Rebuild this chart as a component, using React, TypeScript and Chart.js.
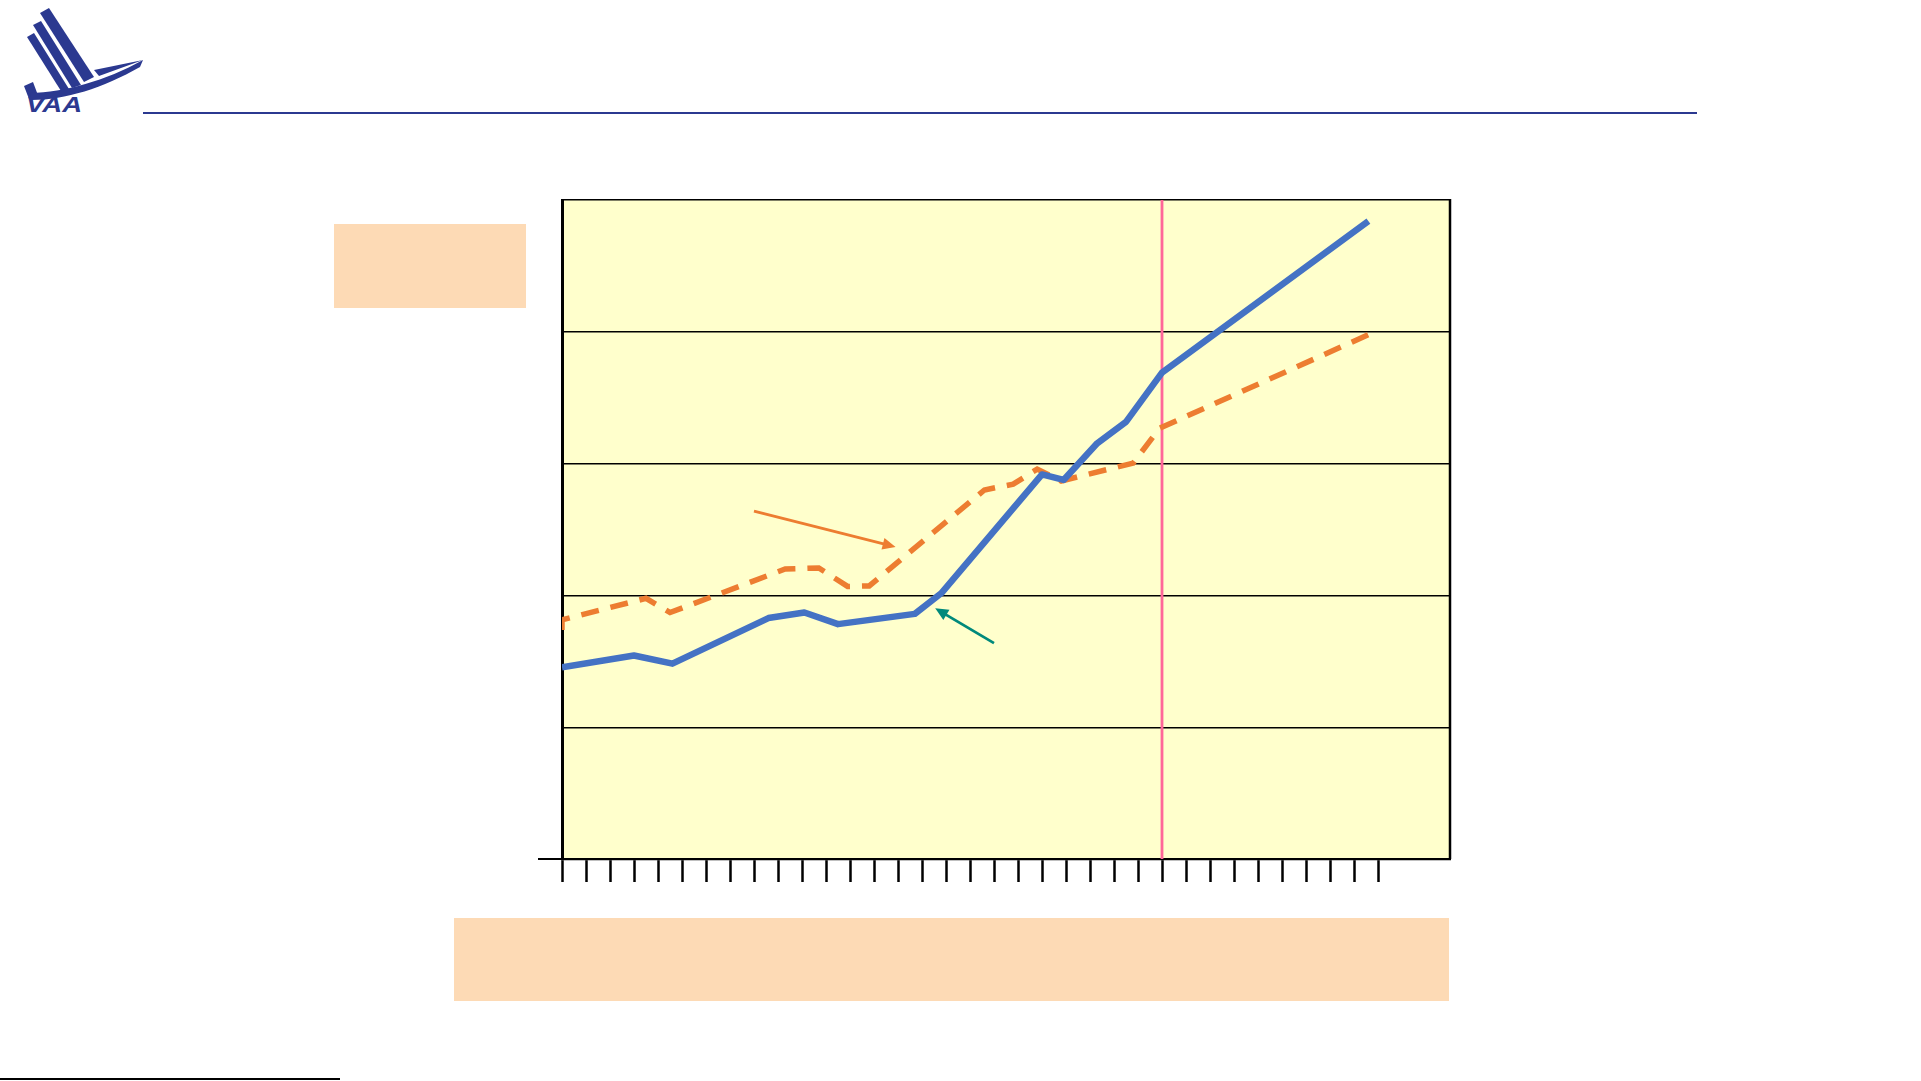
import React, { useEffect, useRef } from "react";
import { Chart, registerables } from "chart.js";

Chart.register(...registerables);

// ---- Data (x in period units, y in value units 0..250) ----
const blueX = [0, 3.0, 4.6, 8.6, 10.1, 11.5, 14.7, 15.8, 20.0, 20.9, 22.3, 23.5, 25.0, 33.6];
const blueY = [72.7, 77.2, 74.1, 91.4, 93.5, 89.1, 93.0, 100.8, 145.9, 143.8, 157.7, 165.8, 184.5, 242.0];

const orangeX = [0, 0, 3.5, 4.5, 9.3, 10.7, 11.9, 12.8, 17.6, 18.8, 19.8, 20.8, 23.8, 24.9, 33.7];
const orangeY = [86.9, 90.7, 98.9, 93.5, 110.0, 110.4, 103.4, 103.6, 140.0, 142.2, 147.9, 143.4, 150.2, 163.4, 199.3];

const xMin = 0;
const xMax = 37;
const lastTick = 34;
const yMin = 0;
const yMax = 250;
const yStep = 50;
const markerX = 25;

// annotation arrows [x1, y1, x2, y2] in data units (arrow head at x2,y2)
const orangeArrow = [8.0, 132.0, 13.9, 118.4];
const tealArrow = [18.0, 81.9, 15.55, 95.1];

const NAVY = "#2B3990";

function drawArrow(ctx: CanvasRenderingContext2D, x1: number, y1: number, x2: number, y2: number, color: string) {
  const ang = Math.atan2(y2 - y1, x2 - x1);
  const headLen = 13;
  const headW = 6;
  ctx.save();
  ctx.strokeStyle = color;
  ctx.fillStyle = color;
  ctx.lineWidth = 2.8;
  ctx.beginPath();
  ctx.moveTo(x1, y1);
  ctx.lineTo(x2 - Math.cos(ang) * headLen * 0.8, y2 - Math.sin(ang) * headLen * 0.8);
  ctx.stroke();
  ctx.beginPath();
  ctx.moveTo(x2, y2);
  ctx.lineTo(
    x2 - Math.cos(ang) * headLen - Math.sin(ang) * headW,
    y2 - Math.sin(ang) * headLen + Math.cos(ang) * headW
  );
  ctx.lineTo(
    x2 - Math.cos(ang) * headLen + Math.sin(ang) * headW,
    y2 - Math.sin(ang) * headLen - Math.cos(ang) * headW
  );
  ctx.closePath();
  ctx.fill();
  ctx.restore();
}

const framePlugin = {
  id: "framePlugin",
  beforeDraw(chart: any) {
    const { ctx, chartArea } = chart;
    ctx.save();
    ctx.fillStyle = "#FFFFCC";
    ctx.fillRect(chartArea.left, chartArea.top, chartArea.right - chartArea.left, chartArea.bottom - chartArea.top);
    ctx.restore();
  },
  beforeDatasetsDraw(chart: any) {
    const { ctx, chartArea, scales } = chart;
    const px = scales.x.getPixelForValue(markerX);
    ctx.save();
    ctx.strokeStyle = "#FF6699";
    ctx.lineWidth = 2.8;
    ctx.beginPath();
    ctx.moveTo(px, chartArea.top);
    ctx.lineTo(px, chartArea.bottom);
    ctx.stroke();
    // right frame
    ctx.strokeStyle = "#000";
    ctx.lineWidth = 2.5;
    ctx.beginPath();
    ctx.moveTo(chartArea.right, chartArea.top - 1);
    ctx.lineTo(chartArea.right, chartArea.bottom);
    ctx.stroke();
    // bottom axis extension to the left
    ctx.lineWidth = 2;
    ctx.beginPath();
    ctx.moveTo(chartArea.left - 24, chartArea.bottom);
    ctx.lineTo(chartArea.left, chartArea.bottom);
    ctx.stroke();
    ctx.restore();
  },
  afterDatasetsDraw(chart: any) {
    const { ctx, scales } = chart;
    const X = (v: number) => scales.x.getPixelForValue(v);
    const Y = (v: number) => scales.y.getPixelForValue(v);
    drawArrow(ctx, X(orangeArrow[0]), Y(orangeArrow[1]), X(orangeArrow[2]), Y(orangeArrow[3]), "#ED7D31");
    drawArrow(ctx, X(tealArrow[0]), Y(tealArrow[1]), X(tealArrow[2]), Y(tealArrow[3]), "#00897B");
  },
};

function LineChart() {
  const ref = useRef<HTMLCanvasElement | null>(null);
  useEffect(() => {
    if (!ref.current) return;
    const chart = new Chart(ref.current, {
      type: "line",
      data: {
        datasets: [
          {
            label: "Series A",
            data: blueX.map((x, i) => ({ x, y: blueY[i] })),
            borderColor: "#4472C4",
            backgroundColor: "#4472C4",
            borderWidth: 6.5,
            pointRadius: 0,
            tension: 0,
            fill: false,
            borderJoinStyle: "round",
          },
          {
            label: "Series B",
            data: orangeX.map((x, i) => ({ x, y: orangeY[i] })),
            borderColor: "#ED7D31",
            backgroundColor: "#ED7D31",
            borderWidth: 5.5,
            borderDash: [18, 12],
            pointRadius: 0,
            tension: 0,
            fill: false,
          },
        ],
      },
      options: {
        animation: false,
        responsive: false,
        devicePixelRatio: 1,
        events: [],
        layout: { padding: { left: 562, top: 200, right: 471, bottom: 199 } },
        plugins: { legend: { display: false }, tooltip: { enabled: false } },
        scales: {
          x: {
            type: "linear",
            min: xMin,
            max: xMax,
            ticks: { display: false, stepSize: 1 },
            afterBuildTicks: (s: any) => {
              s.ticks = s.ticks.filter((t: any) => t.value <= lastTick);
            },
            grid: {
              drawOnChartArea: false,
              drawTicks: true,
              tickLength: 23,
              tickWidth: 2.5,
              tickColor: "#000",
            },
            border: { display: true, color: "#000", width: 2.2 },
          },
          y: {
            min: yMin,
            max: yMax,
            ticks: { display: false, stepSize: yStep },
            grid: { color: "#000", lineWidth: 1.4, drawTicks: false },
            border: { display: true, color: "#000", width: 3 },
          },
        },
      } as any,
      plugins: [framePlugin],
    });
    return () => chart.destroy();
  }, []);
  return (
    <canvas
      ref={ref}
      width={1921}
      height={1081}
      style={{ position: "absolute", left: 0, top: 0, width: 1921, height: 1081 }}
    />
  );
}

function Logo() {
  return (
    <svg
      width={145}
      height={125}
      viewBox="0 0 145 125"
      style={{ position: "absolute", left: 0, top: 0 }}
    >
      <path d="M40,13 L49,8 L94,77 L84,82 Z" fill={NAVY} />
      <path d="M33,25 L41,21 L81,85 L72,88 Z" fill={NAVY} />
      <path d="M27,37 L34,33 L69,89 L61,91 Z" fill={NAVY} />
      <path d="M24,86 L33,82 L39,98 L29,99 Z" fill={NAVY} />
      <path d="M30,93 C65,92 105,81 143,60 L140,67 C103,88 65,100 32,100 Z" fill={NAVY} />
      <path d="M94,70 L143,60 L99,76 Z" fill={NAVY} />
      <text
        x={26}
        y={112}
        fontFamily="'Liberation Sans', Arial, sans-serif"
        fontWeight="bold"
        fontStyle="italic"
        fontSize={22}
        textLength={56}
        lengthAdjust="spacingAndGlyphs"
        fill={NAVY}
      >
        VAA
      </text>
    </svg>
  );
}

export default function App() {
  return (
    <div
      style={{
        position: "fixed",
        left: 0,
        top: 0,
        width: 1921,
        height: 1081,
        background: "#ffffff",
        overflow: "hidden",
      }}
    >
      <Logo />
      <div style={{ position: "absolute", left: 143, top: 112, width: 1554, height: 2, background: NAVY }} />
      <div style={{ position: "absolute", left: 334, top: 224, width: 192, height: 84, background: "#FDDAB5" }} />
      <div style={{ position: "absolute", left: 454, top: 918, width: 995, height: 83, background: "#FDDAB5" }} />
      <LineChart />
      <div style={{ position: "absolute", left: 0, top: 1078, width: 340, height: 2, background: "#000" }} />
    </div>
  );
}
